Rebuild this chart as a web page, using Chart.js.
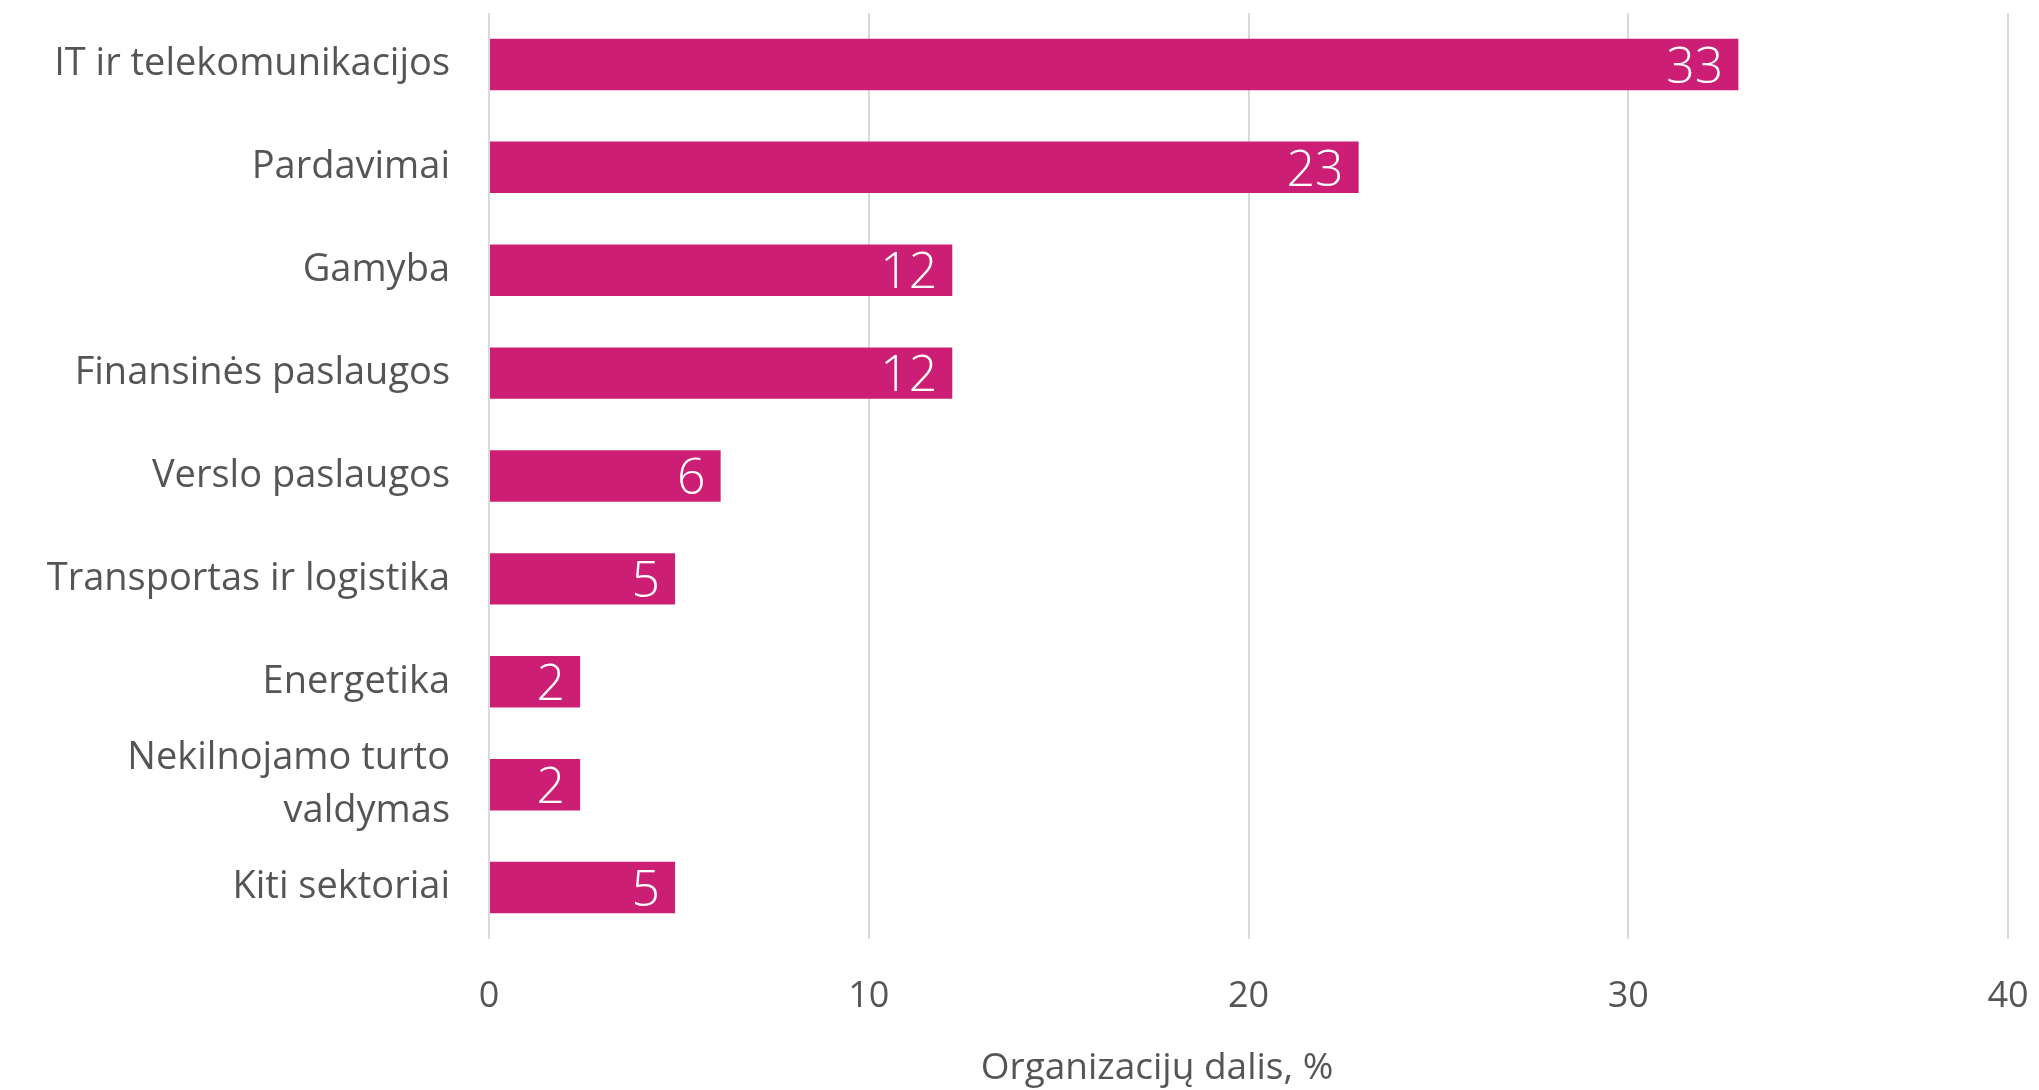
<!DOCTYPE html>
<html>
<head>
<meta charset="utf-8">
<script src="https://cdn.jsdelivr.net/npm/chart.js@4/dist/chart.umd.min.js"></script>
<style>
    html, body { margin: 0; padding: 0; background: #fff; }
    #wrap { width: 2039px; height: 1090px; position: relative; }
</style>
</head>
<body>
<div id="wrap"><canvas id="sectorChart"></canvas></div>
<script>
// Sectors (top to bottom)
const categories = [
    'IT ir telekomunikacijos',
    'Pardavimai',
    'Gamyba',
    'Finansinės paslaugos',
    'Verslo paslaugos',
    'Transportas ir logistika',
    'Energetika',
    ['Nekilnojamo turto', 'valdymas'],
    'Kiti sektoriai'
];
// Bar lengths
const shares = [32.9, 22.9, 12.2, 12.2, 6.1, 4.9, 2.4, 2.4, 4.9];
// Printed value labels
const shareLabels = ['33', '23', '12', '12', '6', '5', '2', '2', '5'];
const xTicks = [0, 10, 20, 30, 40];
const xTitle = 'Organizacijų dalis, %';

const FONT = '"Open Sans", "Noto Sans", sans-serif';
const TEXT = '#555555';

// white labels at the inner end of each bar
const valueLabels = {
    id: 'valueLabels',
    afterDatasetsDraw(chart) {
        const ctx = chart.ctx;
        const meta = chart.getDatasetMeta(0);
        ctx.save();
        ctx.fillStyle = '#ffffff';
        ctx.font = '300 50px ' + FONT;
        ctx.textAlign = 'right';
        ctx.textBaseline = 'middle';
        meta.data.forEach(function(bar, i) {
            ctx.fillText(shareLabels[i], bar.x - 15, bar.y + 4);
        });
        ctx.restore();
    }
};

// axis title, placed like in the original
const axisTitle = {
    id: 'axisTitle',
    afterDraw(chart) {
        const ctx = chart.ctx;
        ctx.save();
        ctx.fillStyle = TEXT;
        ctx.font = '37px ' + FONT;
        ctx.textAlign = 'center';
        ctx.textBaseline = 'middle';
        ctx.fillText(xTitle, 1157, 1068);
        ctx.restore();
    }
};

document.addEventListener('DOMContentLoaded', function() {
    const el = document.getElementById('sectorChart');
    new Chart(el, {
        type: 'bar',
        data: {
            labels: categories,
            datasets: [{
                data: shares,
                backgroundColor: '#cc1e74',
                borderWidth: 0,
                categoryPercentage: 1,
                barPercentage: 0.5
            }]
        },
        options: {
            indexAxis: 'y',
            responsive: true,
            maintainAspectRatio: false,
            animation: false,
            layout: { padding: { top: 13, right: 31, left: 0, bottom: 0 } },
            plugins: {
                legend: { display: false },
                tooltip: { enabled: false }
            },
            scales: {
                x: {
                    min: 0,
                    max: 40,
                    afterBuildTicks(scale) {
                        scale.ticks = xTicks.map(v => ({ value: v }));
                    },
                    afterFit(scale) {
                        scale.height = 151;
                        scale.paddingLeft = 0;
                        scale.paddingRight = 0;
                    },
                    grid: { color: '#d9d9d9', lineWidth: 2, drawTicks: false },
                    border: { display: false },
                    ticks: {
                        color: TEXT,
                        font: { family: FONT, size: 36 },
                        padding: 36
                    }
                },
                y: {
                    afterFit(scale) {
                        scale.width = 489;
                        scale.paddingTop = 0;
                        scale.paddingBottom = 0;
                    },
                    grid: { display: false },
                    border: { display: false },
                    ticks: {
                        autoSkip: false,
                        color: TEXT,
                        font: { family: FONT, size: 38, lineHeight: 1.4 },
                        padding: 31
                    }
                }
            }
        },
        plugins: [valueLabels, axisTitle]
    });
});
</script>
</body>
</html>
